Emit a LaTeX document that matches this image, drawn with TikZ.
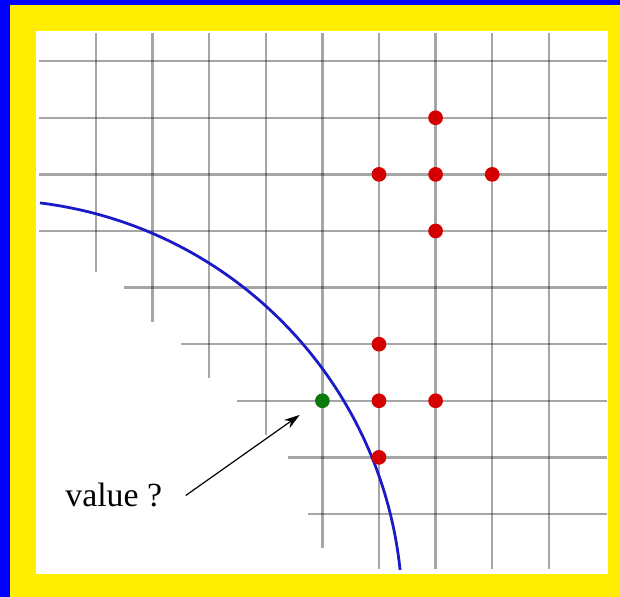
\documentclass[tikz,border=0pt]{standalone}
\usepackage{fontspec}
\setmainfont{Liberation Serif}
\usetikzlibrary{arrows.meta}
\definecolor{frameblue}{HTML}{0000FF}
\definecolor{frameyellow}{HTML}{FFEE00}
\definecolor{curveblue}{HTML}{1A1AC8}
\definecolor{ptred}{HTML}{D40000}
\definecolor{ptgreen}{HTML}{0A7A0A}

\begin{document}
\begin{tikzpicture}[
  gridline/.style={draw=black, draw opacity=0.35, line width=1.25pt},
  pt/.style={circle, inner sep=0pt, minimum size=0.26cm},
  lbl/.style={font=\fontsize{17}{20}\selectfont, inner sep=2pt},
  arr/.style={-{Stealth[length=8pt,width=5pt]}, draw=black, line width=0.6pt}]

\useasboundingbox (-1.696,-1.466) rectangle (9.258,9.081);
\fill[frameblue] (-1.696,-1.466) rectangle (9.258,9.081);
\fill[frameyellow] (-1.519,-1.466) rectangle (9.258,8.993);
\fill[white] (-1.06,-1.06) rectangle (9.046,8.534);

% grid, cut away in steps at the lower left
\foreach \x/\yend in {0/4.28,1/3.39,2/2.40,3/1.40,4/-0.60,5/-0.98,6/-0.98,7/-0.98,8/-0.98}
  \draw[gridline] (\x,8.5) -- (\x,\yend);
\foreach \y/\xstart in {8/-1,7/-1,6/-1,5/-1,4/0.5,3/1.5,2/2.5,1/3.39,0/3.75}
  \draw[gridline] (\xstart,\y) -- (9.03,\y);

% boundary
\draw[curveblue, line width=1.4pt] (-1.885,-1.746) ++(82.95:7.297)
  arc[start angle=82.95, end angle=5.96, radius=7.297];

% stencil points
\foreach \p [count=\i] in {(6,7),(5,6),(6,6),(7,6),(6,5),(5,3),(5,2),(6,2),(5,1)}
  \node[pt, fill=ptred] (r\i) at \p {};
\node[pt, fill=ptgreen] (ghost) at (4,2) {};

\node[lbl, anchor=base west] (val) at (-0.618,0.124) {value ?};
\coordinate (tip) at (3.60,1.75);
\draw[arr] ([xshift=9.7pt]val.east) -- (tip);
\end{tikzpicture}
\end{document}
